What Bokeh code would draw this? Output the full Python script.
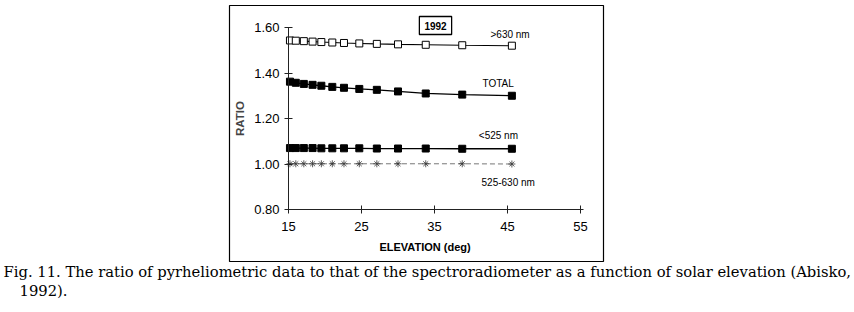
from bokeh.plotting import figure
from bokeh.models import Range1d, Label, BoxAnnotation, FixedTicker
from bokeh.embed import file_html
from bokeh.resources import INLINE

# ---- data ----
elevation = [15.2, 16.0, 17.1, 18.3, 19.5, 21.0, 22.6, 24.7, 27.1, 30.0, 33.8, 38.8, 45.6]
ratio_gt630 = [1.543, 1.542, 1.540, 1.538, 1.536, 1.534, 1.532, 1.530, 1.528, 1.526, 1.524, 1.522, 1.520]
ratio_total = [1.362, 1.357, 1.352, 1.348, 1.344, 1.339, 1.335, 1.330, 1.326, 1.319, 1.310, 1.305, 1.300]
ratio_lt525 = [1.070, 1.070, 1.070, 1.070, 1.069, 1.069, 1.069, 1.069, 1.068, 1.068, 1.068, 1.067, 1.067]
ratio_mid = [1.001, 1.001, 1.001, 1.001, 1.001, 1.001, 1.001, 1.001, 1.001, 1.001, 1.001, 1.001, 1.000]
x_ticks = [15, 25, 35, 45, 55]
y_ticks = [0.80, 1.00, 1.20, 1.40, 1.60]
y_tick_labels = {0.8: "0.80", 1.0: "1.00", 1.2: "1.20", 1.4: "1.40", 1.6: "1.60"}

series_labels = [">630 nm", "TOTAL", "<525 nm", "525-630 nm"]
x_title = "ELEVATION (deg)"
y_title = "RATIO"
year_label = "1992"
caption1 = ("Fig. 11. The ratio of pyrheliometric data to that of the spectroradiometer "
            "as a function of solar elevation (Abisko,")
caption2 = "1992)."

W, H = 854, 312
# scale: 7.3 px per degree, 227.5 px per ratio unit; 15 deg at x=288, 1.60 at y=27
XS, YS = 7.3, 227.5
x0 = 15 - 288 / XS
y1 = 1.6 + 27 / YS

p = figure(width=W, height=H, output_backend="svg", toolbar_location=None,
           x_range=Range1d(x0, x0 + W / XS), y_range=Range1d(y1 - H / YS, y1),
           min_border=0, min_border_left=0, min_border_right=0,
           min_border_top=0, min_border_bottom=0,
           background_fill_color="white", border_fill_color="white")
p.outline_line_color = None
p.grid.visible = False

SANS = "Liberation Sans"

xa = p.xaxis[0]
xa.fixed_location = 0.8
xa.bounds = (15, 55.4)
xa.ticker = FixedTicker(ticks=x_ticks)
xa.minor_tick_line_color = None
xa.major_tick_in = 4
xa.major_tick_out = 4
xa.axis_line_color = "#222"
xa.major_tick_line_color = "#222"
xa.major_label_text_font = SANS
xa.major_label_text_font_size = "13px"
xa.major_label_text_color = "black"
xa.major_label_standoff = 8

ya = p.yaxis[0]
ya.fixed_location = 15
ya.bounds = (0.8, 1.6)
ya.ticker = FixedTicker(ticks=y_ticks)
ya.major_label_overrides = y_tick_labels
ya.minor_tick_line_color = None
ya.major_tick_in = 4
ya.major_tick_out = 4
ya.axis_line_color = "#222"
ya.major_tick_line_color = "#222"
ya.major_label_text_font = SANS
ya.major_label_text_font_size = "13px"
ya.major_label_text_color = "black"
ya.major_label_standoff = 5
ya.axis_label = y_title
ya.axis_label_text_font = SANS
ya.axis_label_text_font_style = "bold"
ya.axis_label_text_font_size = "11.5px"
ya.axis_label_standoff = 5

# x axis title (centred as in the reference, slightly left of the axis middle)
p.add_layout(Label(x=33.7, y=0.637, text=x_title, text_font=SANS, text_font_size="11px",
                   text_font_style="bold", text_align="center", text_baseline="middle",
                   text_color="black"))

# outer frame box (screen units, origin bottom-left)
p.add_layout(BoxAnnotation(left=229, right=603, bottom=H - 261, top=H - 5,
                           left_units="screen", right_units="screen",
                           top_units="screen", bottom_units="screen",
                           fill_alpha=0, line_color="black", line_alpha=1,
                           line_width=1.2))

# series
p.line(elevation, ratio_gt630, line_color="black", line_width=1.1)
p.scatter(elevation, ratio_gt630, marker="square", size=7, fill_color="white",
          line_color="black", line_width=1)
p.line(elevation, ratio_total, line_color="black", line_width=1.3)
p.scatter(elevation, ratio_total, marker="square", size=7, fill_color="black",
          line_color="black")
p.line(elevation, ratio_lt525, line_color="black", line_width=1.3)
p.scatter(elevation, ratio_lt525, marker="square", size=7, fill_color="black",
          line_color="black")
p.line(elevation, ratio_mid, line_color="#777", line_width=1, line_dash="5 3")
p.scatter(elevation, ratio_mid, marker="asterisk", size=7, line_color="#333",
          line_width=0.8)

# series labels
lab_pos = [(42.67, 1.569), (41.58, 1.353), (41.07, 1.125), (41.44, 0.920)]
for txt, (lx, ly) in zip(series_labels, lab_pos):
    p.add_layout(Label(x=lx, y=ly, text=txt, text_font=SANS, text_font_size="10px",
                       text_baseline="middle", text_align="left", text_color="black"))

# year box label
p.add_layout(Label(x=435, y=H - 25, x_units="screen", y_units="screen", text=year_label,
                   text_font=SANS, text_font_size="10px", text_font_style="bold",
                   text_align="center", text_baseline="middle", text_color="black",
                   border_line_color="black", border_line_width=1.3,
                   background_fill_color="white", padding=5))

# caption
CAP = "DejaVu Serif"
p.add_layout(Label(x=3, y=H - 271, x_units="screen", y_units="screen", text=caption1,
                   text_font=CAP, text_font_size="14.75px", text_baseline="middle",
                   text_color="black"))
p.add_layout(Label(x=19, y=H - 290, x_units="screen", y_units="screen", text=caption2,
                   text_font=CAP, text_font_size="14.75px", text_baseline="middle",
                   text_color="black"))

open("out.html", "w").write(file_html(p, INLINE))
